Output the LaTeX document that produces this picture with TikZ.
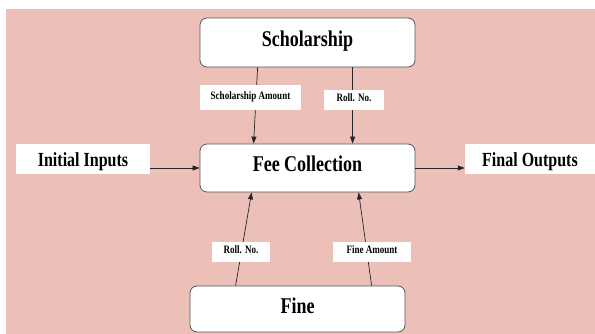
\documentclass[tikz,border=0pt]{standalone}
\usepackage{fontspec}
\usetikzlibrary{arrows.meta}
\newfontfamily\tnr[FakeStretch=0.8]{Liberation Serif}
\definecolor{bgpink}{RGB}{236,192,185}
\definecolor{edgegray}{RGB}{85,85,85}
\begin{document}
\begin{tikzpicture}[x=1pt,y=-1pt,
  mainbox/.style={draw=edgegray,line width=0.8pt,fill=white,rounded corners=7pt,
    inner sep=0pt,text height=14pt,text depth=6pt,
    font=\tnr\bfseries\fontsize{22.5}{25}\selectfont},
  sidebox/.style={fill=white,inner sep=0pt,text height=16pt,text depth=0pt,
    font=\tnr\bfseries\fontsize{20}{22}\selectfont},
  tagbox/.style={fill=white,inner sep=0pt,text height=8pt,text depth=4pt,
    font=\tnr\bfseries\fontsize{11.3}{13}\selectfont},
  flow/.style={draw=black!85,line width=0.7pt,-{Triangle[length=7pt,width=5pt]}}]
\useasboundingbox (0,0) rectangle (595,334);
% background panel
\fill[bgpink] (6,9) rectangle (595,334);

% main process boxes
\node[mainbox,minimum width=215pt,minimum height=49pt] (schol) at (307.5,42.5) {Scholarship};
\node[mainbox,minimum width=215pt,minimum height=48pt] (fee) at (307.5,168) {Fee Collection};
\node[mainbox,minimum width=215pt,minimum height=46pt] (fine) at (297.5,309) {Fine};

% inputs and outputs
\node[sidebox,minimum width=134pt,minimum height=30pt] (init) at (83,159) {Initial Inputs};
\node[sidebox,minimum width=130pt,minimum height=30pt] (final) at (530,159) {Final Outputs};

% data flows
\draw[flow] ([xshift=58pt]schol.south west) -- ([xshift=54pt]fee.north west);
\draw[flow] ([xshift=153pt]schol.south west) -- ([xshift=153pt]fee.north west);
\draw[flow] ([xshift=46pt]fine.north west) -- ([xshift=52pt]fee.south west);
\draw[flow] ([xshift=182pt]fine.north west) -- ([xshift=159pt]fee.south west);
\draw[flow] (init.east |- fee.west) -- (fee.west);
\draw[flow] (fee.east) -- (final.west |- fee.east);

% flow labels
\node[tagbox,minimum width=101pt,minimum height=25pt] (tsa) at (250.5,97.5) {Scholarship Amount};
\node[tagbox,minimum width=60pt,minimum height=20pt] (trn1) at (354,100) {Roll. No.};
\node[tagbox,minimum width=58pt,minimum height=20pt] (trn2) at (241,252) {Roll. No.};
\node[tagbox,minimum width=78pt,minimum height=20pt] (tfa) at (372,252) {Fine Amount};
\end{tikzpicture}
\end{document}
